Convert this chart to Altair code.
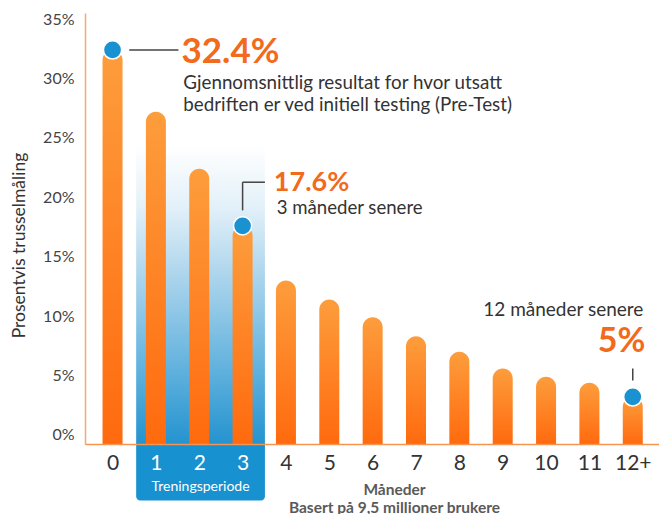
import altair as alt
import pandas as pd

# ---- data ----
months = list(range(13))            # 0 .. 12 (12 shown as "12+")
threat_pct = [32.4, 27.2, 22.4, 17.6, 13.0, 11.4, 9.9, 8.3, 7.0, 5.6, 4.9, 4.4, 3.2]
highlight = [0, 3, 12]
y_ticks = [0, 5, 10, 15, 20, 25, 30, 35]

bars = pd.DataFrame({"month": months, "pct": threat_pct})
bars["hl"] = bars["month"].isin(highlight)

FONT = "Lato"
ORANGE_TXT = "#f26a1b"
BLUE = "#1a91d0"
GREY = "#333333"
Y_MIN = -0.76

xs = alt.Scale(domain=[-0.52, 12.49], nice=False, zero=False)
ys = alt.Scale(domain=[Y_MIN, 35.51], nice=False, zero=False)

xaxis = alt.Axis(
    values=months,
    labelExpr="datum.value == 12 ? '12+' : datum.value",
    labelFontSize=21, labelFont=FONT,
    labelColor={"expr": "datum.value >= 1 && datum.value <= 3 ? '#ffffff' : '#333333'"},
    labelPadding=8, labelFlush=False, ticks=False, grid=False,
    domainColor="#f7944f", domainWidth=1.5, zindex=1,
    title=["Måneder", "Basert på 9,5 millioner brukere"],
    titleFont=FONT, titleFontSize=15.5, titleColor="#5a5a5a", titleFontWeight="bold",
    titleX=309, titleY=38, titleAlign="center", titleBaseline="top", titleLineHeight=18,
)
yaxis = alt.Axis(
    values=y_ticks, labelExpr="datum.value + '%'",
    labelFontSize=16, labelFont=FONT, labelColor="#444444", labelPadding=11,
    ticks=False, grid=False, domainColor="#f6a873", domainWidth=1.5,
    title="Prosentvis trusselmåling", titleFont=FONT, titleFontSize=17.5,
    titleColor=GREY, titleFontWeight="normal", titleX=-66, titleY=232,
    titleAlign="center", titleBaseline="middle",
)


def X(**kw):
    return alt.X(scale=xs, axis=xaxis, **kw)


def Y(**kw):
    return alt.Y(scale=ys, axis=yaxis, **kw)


bar_grad = alt.Gradient(
    gradient="linear", x1=0, x2=0, y1=0, y2=1,
    stops=[alt.GradientStop(color="#fd9d3c", offset=0),
           alt.GradientStop(color="#ff6a0e", offset=1)])

bg_grad = alt.Gradient(
    gradient="linear", x1=0, x2=0, y1=0, y2=1,
    stops=[alt.GradientStop(color="#ffffff", offset=0),
           alt.GradientStop(color="#e4f1f9", offset=0.2),
           alt.GradientStop(color="#b5d9ee", offset=0.4),
           alt.GradientStop(color="#5aaedc", offset=0.78),
           alt.GradientStop(color="#2493cf", offset=1)])

one = pd.DataFrame({"a": [0]})
base = alt.Chart(bars)

# training-period background
train_bg = alt.Chart(one).mark_rect(color=bg_grad).encode(
    x=X(datum=0.545), x2=alt.X2(datum=3.515),
    y=Y(datum=24.4), y2=alt.Y2(datum=Y_MIN),
)

train_box = alt.Chart(one).mark_rect(
    color="#1791cf", clip=False, cornerRadiusBottomLeft=4, cornerRadiusBottomRight=4
).encode(
    x=X(datum=0.545), x2=alt.X2(datum=3.515),
    y=Y(datum=Y_MIN), y2=alt.Y2(datum=-5.52),
)

bar_layer = base.mark_bar(
    color=bar_grad, size=20, cornerRadiusTopLeft=10, cornerRadiusTopRight=10
).encode(
    x=X(field="month", type="quantitative"),
    y=Y(field="pct", type="quantitative"),
    y2=alt.Y2(datum=Y_MIN),
)

dots = base.transform_filter("datum.hl").mark_point(
    filled=True, shape="circle", size=330, color=BLUE, stroke="white",
    strokeWidth=1.5, opacity=1
).encode(x=X(field="month", type="quantitative"), y=Y(field="pct", type="quantitative"))


def rule(x1, x2, y1, y2):
    return alt.Chart(one).mark_rule(color="#444444", strokeWidth=1.5).encode(
        x=X(datum=x1), x2=alt.X2(datum=x2),
        y=Y(datum=y1), y2=alt.Y2(datum=y2))


def text(s, x, y, size, color=GREY, bold=False, align="left", baseline="middle"):
    return alt.Chart(one).mark_text(
        text=s, font=FONT, fontSize=size, color=color,
        fontWeight="bold" if bold else "normal",
        align=align, baseline=baseline, clip=False,
    ).encode(x=X(datum=x), y=Y(datum=y))


annotations = [
    rule(0.385, 1.52, 32.4, 32.4),
    text("32.4%", 1.59, 31.3, 35, ORANGE_TXT, True, baseline="alphabetic"),
    text("Gjennomsnittlig resultat for hvor utsatt", 1.633, 29.65, 18.8),
    text("bedriften er ved initiell testing (Pre-Test)", 1.633, 27.76, 18.8),
    rule(3, 3, 18.9, 21.27),
    rule(3, 3.515, 21.27, 21.27),
    text("17.6%", 3.72, 20.5, 27, ORANGE_TXT, True, baseline="alphabetic"),
    text("3 måneder senere", 3.787, 19.09, 18.6),
    text("12 måneder senere", 12.245, 10.49, 19, align="right"),
    text("5%", 12.29, 6.95, 34, ORANGE_TXT, True, align="right", baseline="alphabetic"),
    rule(12, 12, 5.6, 4.59),
    text("Treningsperiode", 2.03, -4.42, 14, "#ffffff", align="center"),
]

chart = alt.layer(train_bg, train_box, bar_layer, *annotations, dots).properties(
    width=574, height=431,
    autosize=alt.AutoSizeParams(type="none"),
    padding={"left": 77, "top": 5, "right": 0, "bottom": 70},
).configure_view(stroke=None)

chart.save("out.html", embed_options={"renderer": "svg", "actions": False})
